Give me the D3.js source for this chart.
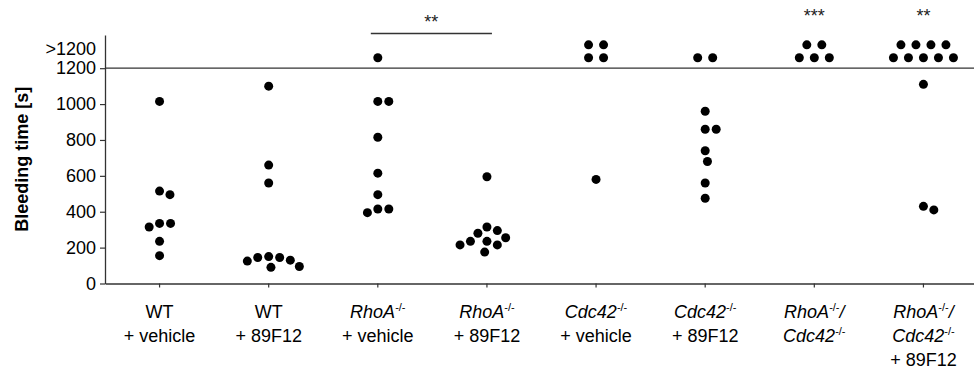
<!DOCTYPE html>
<html>
<head>
<meta charset="utf-8">
<script src="https://cdn.jsdelivr.net/npm/d3@7"></script>
<style>
  html, body { margin: 0; padding: 0; background: #fff; }
  svg { display: block; font-family: "Liberation Sans", Arial, Helvetica, sans-serif; }
</style>
</head>
<body>
<svg id="chart" width="974" height="370"></svg>
<script>
// ---- data -------------------------------------------------------------
// Group keys and their two/three-line labels.
// Label markup: _text_ = italic, ^text^ = superscript.
const categories = ["wtVehicle", "wt89F12", "rhoaVehicle", "rhoa89F12",
                    "cdc42Vehicle", "cdc4289F12", "doubleKO", "doubleKO89F12"];
const categoryLabels = [
  ["WT", "+ vehicle"],
  ["WT", "+ 89F12"],
  ["_RhoA_^-/-^", "+ vehicle"],
  ["_RhoA_^-/-^", "+ 89F12"],
  ["_Cdc42_^-/-^", "+ vehicle"],
  ["_Cdc42_^-/-^", "+ 89F12"],
  ["_RhoA_^-/-^_/_", "_Cdc42_^-/-^"],
  ["_RhoA_^-/-^_/_", "_Cdc42_^-/-^", "+ 89F12"]
];

// Bleeding times (s) that stopped before the cutoff, one value per animal.
const wtVehicle     = [1015, 515, 495, 335, 335, 315, 235, 155];
const wt89F12       = [1100, 660, 560, 150, 145, 145, 130, 125, 95, 90];
const rhoaVehicle   = [1015, 1015, 815, 615, 495, 415, 415, 395];
const rhoa89F12     = [595, 315, 295, 280, 255, 235, 235, 215, 215, 175];
const cdc42Vehicle  = [580];
const cdc4289F12    = [960, 860, 860, 740, 680, 560, 475];
const doubleKO      = [];
const doubleKO89F12 = [1110, 430, 410];

// Animals still bleeding when the observation was stopped (> cutoff).
const overCutoff = [0, 0, 1, 0, 4, 2, 5, 9];
const cutoff = 1200;

// Axis ticks
const yTicks = [0, 200, 400, 600, 800, 1000, 1200];
const overCutoffLabel = ">1200";

// Significance annotations
const brackets = [{ from: 2, to: 3, label: "**" }];
const groupStars = [{ group: 6, label: "***" }, { group: 7, label: "**" }];

const measured = [wtVehicle, wt89F12, rhoaVehicle, rhoa89F12,
                  cdc42Vehicle, cdc4289F12, doubleKO, doubleKO89F12];

// ---- layout -----------------------------------------------------------
const W = 974, H = 370;
const plot = { left: 105, right: 978, top: 35, bottom: 283.5 };
const ink = "#333";
const dotR = 4.5;
const FONT = 18;

const svg = d3.select("#chart");

const x = d3.scaleBand().domain(categories).range([plot.left, plot.right]);
const y = d3.scaleLinear().domain([0, 1385]).range([plot.bottom, plot.top]);
const cx = i => x(categories[i]) + x.bandwidth() / 2;

// ---- axes -------------------------------------------------------------
const yAxis = svg.append("g")
  .attr("transform", `translate(${plot.left},0)`)
  .call(d3.axisLeft(y).tickValues(yTicks).tickFormat(d3.format("d"))
    .tickSize(5).tickPadding(4).tickSizeOuter(0));
yAxis.select(".domain").attr("stroke", ink).attr("stroke-width", 1.3);
yAxis.selectAll(".tick line").attr("stroke", ink).attr("stroke-width", 1.2);
yAxis.selectAll(".tick text").attr("font-size", FONT).attr("fill", "#000")
  .attr("font-family", "Liberation Sans, Arial, sans-serif");

// label for the censored band above the cutoff
yAxis.append("text")
  .attr("x", -9).attr("y", y(1305)).attr("dy", "0.32em")
  .attr("text-anchor", "end").attr("font-size", FONT).attr("fill", "#000")
  .attr("font-family", "Liberation Sans, Arial, sans-serif")
  .text(overCutoffLabel);

const xAxis = svg.append("g")
  .attr("transform", `translate(0,${plot.bottom})`)
  .call(d3.axisBottom(x).tickSize(4).tickSizeOuter(0).tickFormat(""));
xAxis.select(".domain").attr("stroke", ink).attr("stroke-width", 1.3);
xAxis.selectAll(".tick line").attr("stroke", ink).attr("stroke-width", 1.2);

// cutoff line
svg.append("line")
  .attr("x1", plot.left).attr("x2", W)
  .attr("y1", y(cutoff)).attr("y2", y(cutoff))
  .attr("stroke", ink).attr("stroke-width", 1.3);

// y axis title
svg.append("text")
  .attr("transform", `translate(28,${(plot.top + plot.bottom) / 2}) rotate(-90)`)
  .attr("text-anchor", "middle")
  .attr("font-size", FONT).attr("font-weight", "bold").attr("fill", "#000")
  .text("Bleeding time [s]");

// ---- category labels with italic / superscript runs ----------------------
function parseRuns(s) {
  const runs = [];
  const re = /_([^_]+)_|\^([^^]+)\^|([^_^]+)/g;
  let m;
  while ((m = re.exec(s))) {
    if (m[1]) runs.push({ t: m[1], it: true });
    else if (m[2]) runs.push({ t: m[2], sup: true });
    else runs.push({ t: m[3] });
  }
  return runs;
}

const labelG = svg.append("g").attr("font-size", FONT).attr("fill", "#000");
categoryLabels.forEach((lines, i) => {
  lines.forEach((line, li) => {
    const t = labelG.append("text")
      .attr("x", cx(i)).attr("y", 318 + li * 24)
      .attr("text-anchor", "middle");
    let shifted = false;
    parseRuns(line).forEach(r => {
      const ts = t.append("tspan").text(r.t);
      if (r.sup) {
        ts.attr("font-size", 11).attr("dy", -7);
        shifted = true;
      } else {
        if (shifted) { ts.attr("dy", 7); shifted = false; }
        if (r.it) ts.attr("font-style", "italic");
      }
    });
  });
});

// ---- points -----------------------------------------------------------
// Greedy swarm: largest values first, each dot takes the free horizontal
// offset closest to the group centre.
function swarm(values, minDist) {
  const order = values.map((_, i) => i).sort((a, b) => values[b] - values[a]);
  const placed = [];
  const out = new Array(values.length);
  for (const i of order) {
    const py = y(values[i]);
    const cands = [0];
    for (const p of placed) {
      const dy = py - p.y;
      if (Math.abs(dy) < minDist) {
        const dx = Math.sqrt(minDist * minDist - dy * dy);
        cands.push(p.x + dx, p.x - dx);
      }
    }
    cands.sort((a, b) => Math.abs(a) - Math.abs(b) || b - a);
    const free = c => placed.every(p => (c - p.x) ** 2 + (py - p.y) ** 2 >= minDist * minDist - 1e-6);
    const px = cands.find(free);
    placed.push({ x: px, y: py });
    out[i] = { dx: px, y: py };
  }
  return out;
}

// Censored animals: stacked in centred rows above the cutoff line.
const censoredRowValues = [1258, 1330];
const censoredSpacing = 15;
function censoredLayout(n) {
  const rows = n <= 2 ? [n] : [Math.ceil(n / 2), Math.floor(n / 2)];
  const out = [];
  rows.forEach((k, r) => {
    for (let j = 0; j < k; j++) {
      out.push({ dx: (j - (k - 1) / 2) * censoredSpacing, y: y(censoredRowValues[r]) });
    }
  });
  return out;
}

const dots = [];
measured.forEach((vals, i) => {
  swarm(vals, 11).forEach(p => dots.push({ x: cx(i) + p.dx, y: p.y }));
  censoredLayout(overCutoff[i]).forEach(p => dots.push({ x: cx(i) + p.dx, y: p.y }));
});

svg.append("g").selectAll("circle").data(dots).join("circle")
  .attr("cx", d => d.x).attr("cy", d => d.y).attr("r", dotR).attr("fill", "#000");

// ---- significance marks ------------------------------------------------
brackets.forEach(b => {
  const x1 = cx(b.from) - 7, x2 = cx(b.to) + 5, by = 33.5;
  svg.append("line").attr("x1", x1).attr("x2", x2).attr("y1", by).attr("y2", by)
    .attr("stroke", ink).attr("stroke-width", 1.3);
  svg.append("text").attr("x", (x1 + x2) / 2).attr("y", 28)
    .attr("text-anchor", "middle").attr("font-size", FONT).attr("fill", "#222").text(b.label);
});
groupStars.forEach(s => {
  svg.append("text").attr("x", cx(s.group)).attr("y", 21.5)
    .attr("text-anchor", "middle").attr("font-size", FONT).attr("fill", "#222").text(s.label);
});
</script>
</body>
</html>
